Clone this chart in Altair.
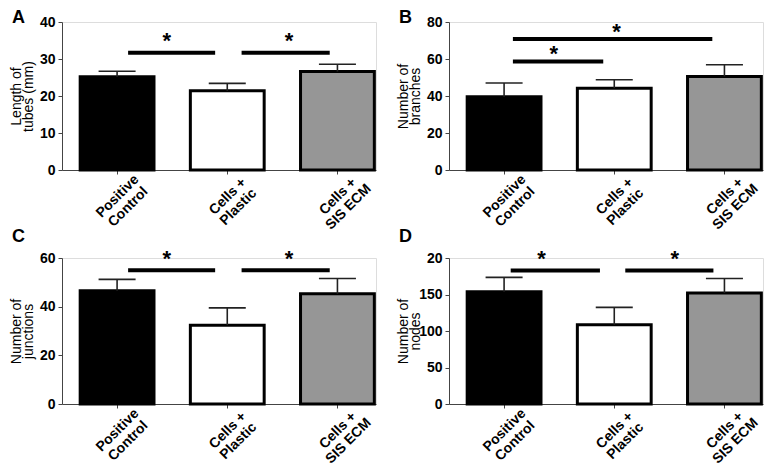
import altair as alt
import pandas as pd

# ---------------- data ----------------
positions = [1, 2, 3]
category_lines = [["Positive", "Control"], ["Cells +", "Plastic"], ["Cells +", "SIS ECM"]]
bar_colors = ["#000000", "#ffffff", "#969696"]

# Panel A: length of tubes (mm)
a_means = [25.2, 21.4, 26.6]
a_errs = [26.7, 23.4, 28.6]
a_sig_start = [1.10, 2.13]
a_sig_end = [1.89, 2.93]
a_sig_y = [31.7, 31.7]
a_star_x = [1.45, 2.56]
a_star_y = [36.0, 36.0]
a_ticks = [0, 10, 20, 30, 40]
a_tick_labels = ["0", "10", "20", "30", "40"]

# Panel B: number of branches
b_means = [39.6, 44.2, 50.6]
b_errs = [47.0, 48.8, 56.9]
b_sig_start = [1.08, 1.08]
b_sig_end = [1.90, 2.89]
b_sig_y = [58.7, 70.8]
b_star_x = [1.45, 2.02]
b_star_y = [65.0, 76.6]
b_ticks = [0, 20, 40, 60, 80]
b_tick_labels = ["0", "20", "40", "60", "80"]

# Panel C: number of junctions
c_means = [46.5, 32.4, 45.3]
c_errs = [51.2, 39.5, 51.6]
c_sig_start = [1.10, 2.13]
c_sig_end = [1.89, 2.93]
c_sig_y = [55.0, 55.0]
c_star_x = [1.45, 2.56]
c_star_y = [61.3, 61.3]
c_ticks = [0, 20, 40, 60]
c_tick_labels = ["0", "20", "40", "60"]

# Panel D: number of nodes
d_means = [153.8, 108.7, 152.0]
d_errs = [173.5, 132.4, 172.0]
d_sig_start = [1.06, 2.10]
d_sig_end = [1.87, 2.90]
d_sig_y = [183.0, 183.0]
d_star_x = [1.34, 2.55]
d_star_y = [204.0, 204.0]
d_ticks = [0, 50, 100, 150, 200]
d_tick_labels = ["0", "50", "100", "150", "20"]

FONT = "Liberation Sans"
X_DOMAIN = [0.5, 3.35]
HALF_BAR = 0.335
HALF_CAP = 0.168
W = 314


def js_list(items):
    return "[" + ",".join("'" + s + "'" for s in items) + "]"


x_label_expr = " : ".join(
    f"datum.value == {p} ? {js_list(l)}" for p, l in zip(positions[:-1], category_lines[:-1])
) + " : " + js_list(category_lines[-1])


def panel(letter, means, errs, sig_start, sig_end, sig_y, star_x, star_y,
          ticks, tick_labels, ytitle, height, letter_y):
    ymax = ticks[-1]
    df = pd.DataFrame({
        "pos": positions,
        "lo": [p - HALF_BAR for p in positions],
        "hi": [p + HALF_BAR for p in positions],
        "clo": [p - HALF_CAP for p in positions],
        "chi": [p + HALF_CAP for p in positions],
        "mean": means,
        "err": errs,
        "grp": ["g0", "g1", "g2"],
    })
    sig = pd.DataFrame({"x1": sig_start, "x2": sig_end, "y": sig_y})
    stars = pd.DataFrame({"x": star_x, "y": star_y, "t": ["*"] * len(star_x)})

    ylabel_expr = " : ".join(
        f"datum.value == {v} ? '{l}'" for v, l in zip(ticks, tick_labels)
    ) + " : datum.label"

    xscale = alt.Scale(domain=X_DOMAIN, nice=False, zero=False)
    yscale = alt.Scale(domain=[0, ymax], nice=False)

    xaxis = alt.Axis(values=positions, labelExpr=x_label_expr, title=None,
                     labelAngle=-45, labelAlign="center", labelBaseline="middle",
                     labelPadding=22, labelLineHeight=15, labelFontSize=14,
                     labelFontWeight="bold", labelFont=FONT, labelColor="black",
                     tickSize=4, tickColor="#444", domainColor="#444",
                     labelOverlap=False, labelFlush=False, grid=False)
    yaxis = alt.Axis(values=ticks, labelExpr=ylabel_expr, title=ytitle,
                     titleFont=FONT, titleFontSize=14, titleFontWeight="normal",
                     titleColor="black", titleLineHeight=12,
                     titleX=-46, titleY=height / 2, titleAngle=-90,
                     titleAlign="center", titleBaseline="middle",
                     labelFontSize=14, labelFontWeight="bold", labelFont=FONT,
                     labelColor="black", labelPadding=3, labelOverlap=False,
                     labelFlush=False, labelBound=False,
                     tickSize=4, tickColor="#444", domainColor="#444", grid=False)

    def X(field):
        return alt.X(field, scale=xscale, axis=xaxis)

    def Y(field):
        return alt.Y(field, scale=yscale, axis=yaxis)

    base = alt.Chart(df)
    bars = base.mark_bar(stroke="black", strokeWidth=3).encode(
        x=X("lo:Q"), x2="hi:Q",
        y=Y("mean:Q"), y2=alt.datum(0),
        fill=alt.Fill("grp:N", scale=alt.Scale(domain=["g0", "g1", "g2"], range=bar_colors), legend=None),
    )
    stem = base.mark_rule(color="#222", strokeWidth=1.6).encode(
        x=X("pos:Q"), y=Y("mean:Q"), y2="err:Q")
    cap = base.mark_rule(color="#222", strokeWidth=1.6).encode(
        x=X("clo:Q"), x2="chi:Q", y=Y("err:Q"))
    sig_rules = alt.Chart(sig).mark_rule(color="black", strokeWidth=4).encode(
        x=X("x1:Q"), x2="x2:Q", y=Y("y:Q"))
    star_text = alt.Chart(stars).mark_text(
        font=FONT, fontSize=22, fontWeight="bold", baseline="alphabetic", dy=11, color="black"
    ).encode(x=X("x:Q"), y=Y("y:Q"), text="t:N")
    letter_text = alt.Chart(pd.DataFrame({"t": [letter]})).mark_text(
        font=FONT, fontSize=18, fontWeight="bold", align="left", baseline="middle", color="black"
    ).encode(x=alt.value(-50), y=alt.value(letter_y), text="t:N")

    return alt.layer(bars, stem, cap, sig_rules, star_text, letter_text).properties(
        width=W, height=height)


pa = panel("A", a_means, a_errs, a_sig_start, a_sig_end, a_sig_y, a_star_x, a_star_y,
           a_ticks, a_tick_labels, ["Length of", "tubes (mm)"], 148, -4)
pb = panel("B", b_means, b_errs, b_sig_start, b_sig_end, b_sig_y, b_star_x, b_star_y,
           b_ticks, b_tick_labels, ["Number of", "branches"], 148, -4)
pc = panel("C", c_means, c_errs, c_sig_start, c_sig_end, c_sig_y, c_star_x, c_star_y,
           c_ticks, c_tick_labels, ["Number of", "junctions"], 146, -21)
pd_ = panel("D", d_means, d_errs, d_sig_start, d_sig_end, d_sig_y, d_star_x, d_star_y,
            d_ticks, d_tick_labels, ["Number of", "nodes"], 146, -21)

chart = alt.vconcat(
    alt.hconcat(pa, pb, spacing=18),
    alt.hconcat(pc, pd_, spacing=18),
    spacing=-6,
).properties(padding=0).configure_view(stroke=None).configure(background="white")

chart.save("out.html", embed_options={"renderer": "svg", "actions": False})
